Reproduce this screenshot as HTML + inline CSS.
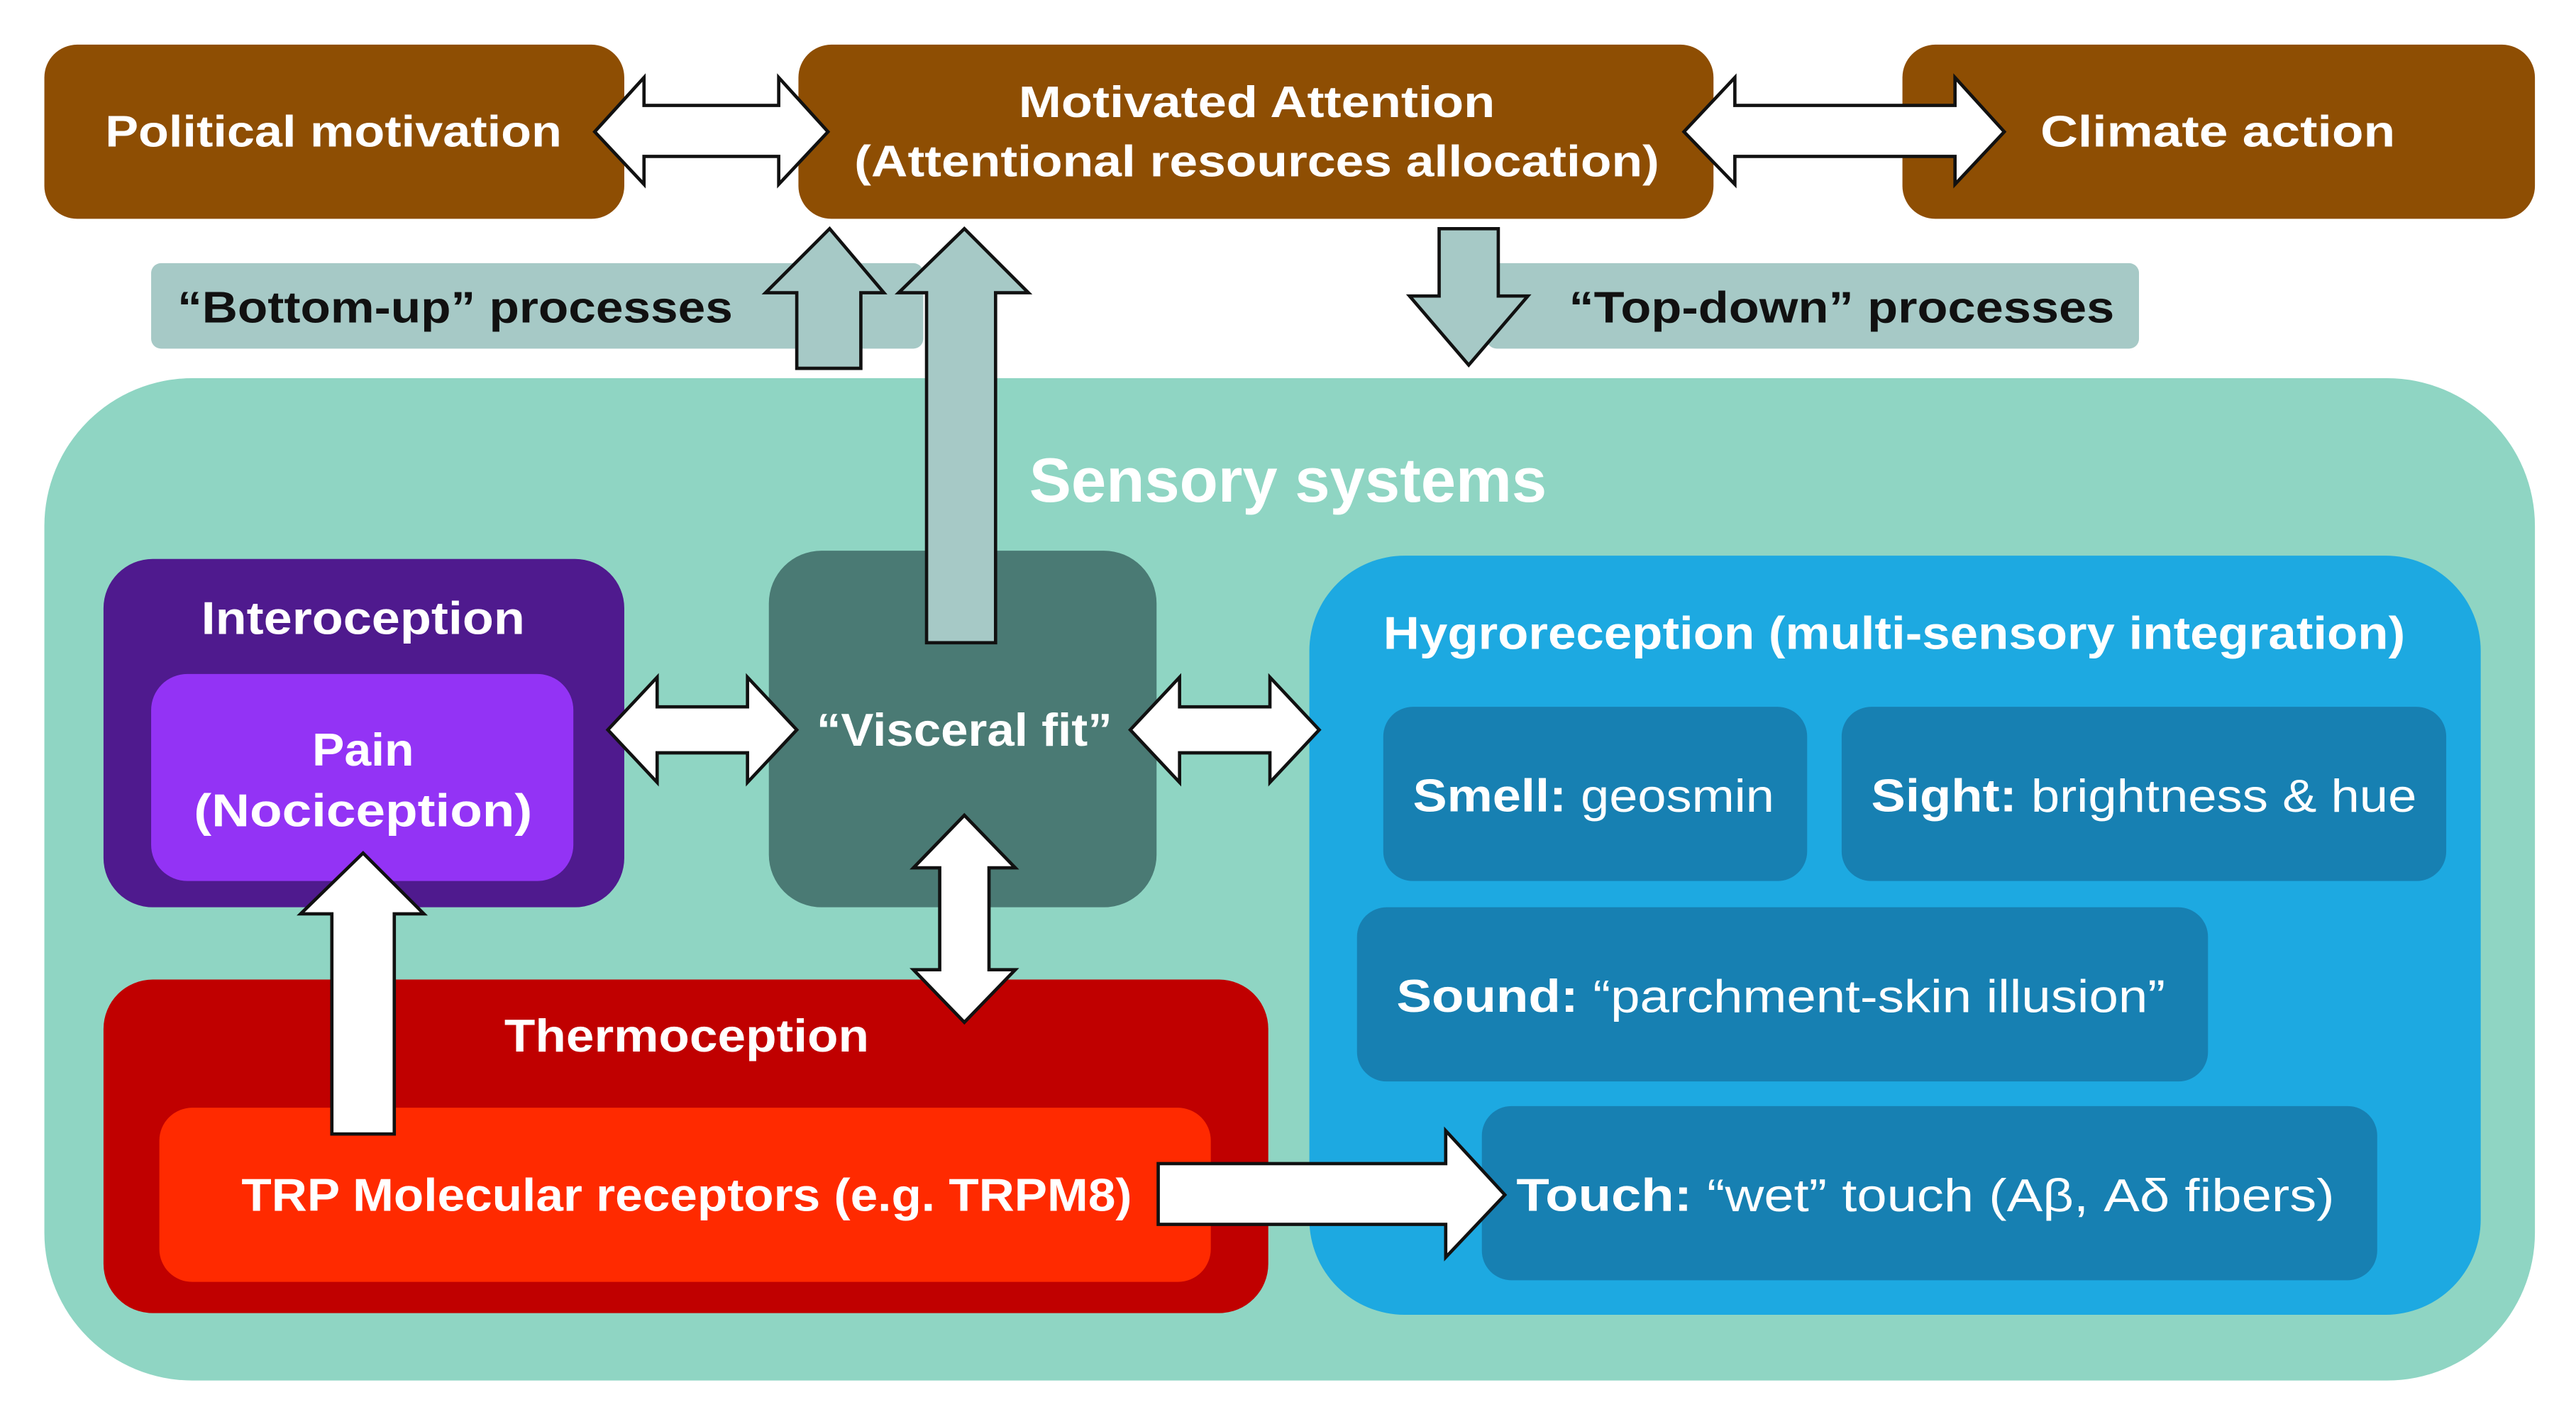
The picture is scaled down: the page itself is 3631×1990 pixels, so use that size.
<!DOCTYPE html>
<html><head><meta charset="utf-8"><style>
html,body{margin:0;padding:0;background:#fff;}
svg{display:block;}
text{font-family:"Liberation Sans",sans-serif;font-weight:bold;fill:#fff;text-anchor:middle;dominant-baseline:central;}
.n{font-weight:normal;}
</style></head><body>
<svg width="3631" height="1990" viewBox="0 0 1568 859" xmlns="http://www.w3.org/2000/svg">
<rect width="1568" height="859" fill="#fff"/>
<!-- top boxes -->
<rect x="27" y="27" width="353" height="106" rx="20" fill="#8E4E03"/>
<text x="203" y="80" font-size="27" textLength="278" lengthAdjust="spacingAndGlyphs">Political motivation</text>
<rect x="486" y="27" width="557" height="106" rx="20" fill="#8E4E03"/>
<text x="765" y="62" font-size="27" textLength="290" lengthAdjust="spacingAndGlyphs">Motivated Attention</text>
<text x="765" y="98" font-size="27" textLength="490" lengthAdjust="spacingAndGlyphs">(Attentional resources allocation)</text>
<rect x="1158" y="27" width="385" height="106" rx="20" fill="#8E4E03"/>
<text x="1350" y="80" font-size="27" textLength="216" lengthAdjust="spacingAndGlyphs">Climate action</text>
<!-- top double arrows -->
<polygon points="362,80 392,47 392,64 474,64 474,47 504,80 474,112 474,95 392,95 392,112" fill="#fff" stroke="#111" stroke-width="2"/>
<polygon points="1025,80 1056,47 1056,64 1190,64 1190,47 1220,80 1190,112 1190,95 1056,95 1056,112" fill="#fff" stroke="#111" stroke-width="2"/>
<!-- process labels -->
<rect x="92" y="160" width="470" height="52" rx="6" fill="#A6C9C6"/>
<text x="277" y="187" font-size="27" style="fill:#111" textLength="338" lengthAdjust="spacingAndGlyphs">“Bottom-up” processes</text>
<rect x="905" y="160" width="397" height="52" rx="6" fill="#A6C9C6"/>
<text x="1121" y="187" font-size="27" style="fill:#111" textLength="332" lengthAdjust="spacingAndGlyphs">“Top-down” processes</text>
<polygon points="876,139 912,139 912,180 930,180 894,222 858,180 876,180" fill="#A6C9C6" stroke="#111" stroke-width="2"/>
<!-- sensory container -->
<rect x="27" y="230" width="1516" height="610" rx="90" fill="#8FD5C3"/>
<text x="784" y="292" font-size="38" textLength="315" lengthAdjust="spacingAndGlyphs">Sensory systems</text>
<!-- up arrows -->
<polygon points="485,224 524,224 524,178 538,178 505,139 466,178 485,178" fill="#A6C9C6" stroke="#111" stroke-width="2"/>
<!-- interoception -->
<rect x="63" y="340" width="317" height="212" rx="30" fill="#4F1A8E"/>
<text x="221" y="376" font-size="28" textLength="197" lengthAdjust="spacingAndGlyphs">Interoception</text>
<rect x="92" y="410" width="257" height="126" rx="22" fill="#9333F5"/>
<text x="221" y="456" font-size="28" textLength="62" lengthAdjust="spacingAndGlyphs">Pain</text>
<text x="221" y="493" font-size="28" textLength="206" lengthAdjust="spacingAndGlyphs">(Nociception)</text>
<!-- visceral fit -->
<rect x="468" y="335" width="236" height="217" rx="32" fill="#4A7A74"/>
<polygon points="564,391 606,391 606,178 626,178 587,139 547,178 564,178" fill="#A6C9C6" stroke="#111" stroke-width="2"/>
<text x="587" y="444" font-size="28" textLength="180" lengthAdjust="spacingAndGlyphs">“Visceral fit”</text>
<!-- thermoception -->
<rect x="63" y="596" width="709" height="203" rx="30" fill="#C00000"/>
<text x="418" y="630" font-size="28" textLength="222" lengthAdjust="spacingAndGlyphs">Thermoception</text>
<rect x="97" y="674" width="640" height="106" rx="20" fill="#FF2A00"/>
<text x="418" y="727" font-size="28" textLength="542" lengthAdjust="spacingAndGlyphs">TRP Molecular receptors (e.g. TRPM8)</text>
<!-- hygroreception -->
<rect x="797" y="338" width="713" height="462" rx="58" fill="#1DA9E1"/>
<text x="1153" y="385" font-size="28" textLength="622" lengthAdjust="spacingAndGlyphs">Hygroreception (multi-sensory integration)</text>
<rect x="842" y="430" width="258" height="106" rx="18" fill="#1780B2"/>
<text x="970" y="484" font-size="28" textLength="220" lengthAdjust="spacingAndGlyphs">Smell: <tspan class="n">geosmin</tspan></text>
<rect x="1121" y="430" width="368" height="106" rx="18" fill="#1780B2"/>
<text x="1305" y="484" font-size="28" textLength="332" lengthAdjust="spacingAndGlyphs">Sight: <tspan class="n">brightness &amp; hue</tspan></text>
<rect x="826" y="552" width="518" height="106" rx="18" fill="#1780B2"/>
<text x="1084" y="606" font-size="28" textLength="468" lengthAdjust="spacingAndGlyphs">Sound: <tspan class="n">“parchment-skin illusion”</tspan></text>
<rect x="902" y="673" width="545" height="106" rx="18" fill="#1780B2"/>
<text x="1172" y="727" font-size="28" textLength="498" lengthAdjust="spacingAndGlyphs">Touch: <tspan class="n">“wet” touch (Aβ, Aδ fibers)</tspan></text>
<!-- white arrows -->
<polygon points="370,444 400,412 400,430 455,430 455,412 485,444 455,476 455,458 400,458 400,476" fill="#fff" stroke="#111" stroke-width="2"/>
<polygon points="688,444 718,412 718,430 773,430 773,412 803,444 773,476 773,458 718,458 718,476" fill="#fff" stroke="#111" stroke-width="2"/>
<polygon points="587,496 618,528 602,528 602,590 618,590 587,622 556,590 572,590 572,528 556,528" fill="#fff" stroke="#111" stroke-width="2"/>
<polygon points="202,690 240,690 240,556 258,556 221,519 183,556 202,556" fill="#fff" stroke="#111" stroke-width="2"/>
<polygon points="705,708 880,708 880,688 916,727 880,765 880,745 705,745" fill="#fff" stroke="#111" stroke-width="2"/>
</svg>
</body></html>
